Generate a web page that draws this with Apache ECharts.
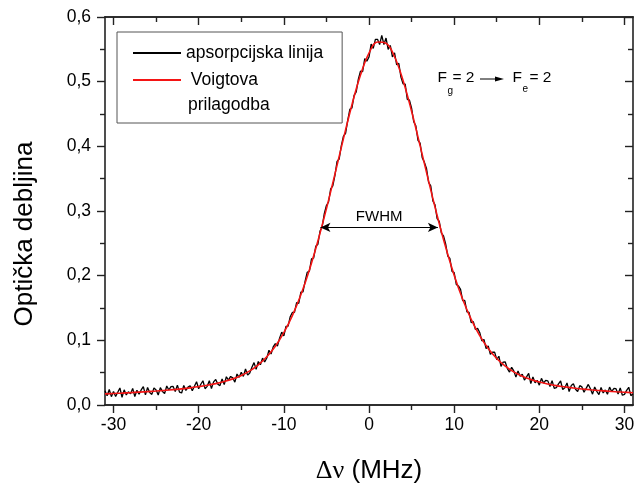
<!DOCTYPE html>
<html><head><meta charset="utf-8">
<script src="https://cdn.jsdelivr.net/npm/echarts@6/dist/echarts.min.js"></script>
<style>html,body{margin:0;padding:0;background:#fff}#c{width:635px;height:487px}</style>
</head><body><div id="c"></div>
<script>
const fitX = [-31,-30,-29,-28,-27,-26,-25,-24,-23,-22,-21,-20,-19,-18,-17,-16,-15,-14,-13,-12,-11,-10,-9,-8,-7,-6,-5,-4,-3,-2,-1,0,1,2,3,4,5,6,7,8,9,10,11,12,13,14,15,16,17,18,19,20,21,22,23,24,25,26,27,28,29,30,31];
const fitY = [0.0172,0.0178,0.0184,0.0191,0.0199,0.0207,0.0216,0.0226,0.0238,0.0250,0.0265,0.0284,0.0305,0.0331,0.0363,0.0404,0.0457,0.0528,0.0622,0.0746,0.0909,0.1118,0.1381,0.1704,0.2089,0.2536,0.3035,0.3571,0.4119,0.4644,0.5102,0.5441,0.5614,0.5595,0.5385,0.5018,0.4542,0.4010,0.3462,0.2932,0.2442,0.2007,0.1634,0.1323,0.1072,0.0873,0.0719,0.0601,0.0512,0.0445,0.0395,0.0355,0.0325,0.0300,0.0281,0.0263,0.0248,0.0235,0.0224,0.0214,0.0205,0.0197,0.0190];
const rawX = [-31,-30.75,-30.5,-30.25,-30,-29.75,-29.5,-29.25,-29,-28.75,-28.5,-28.25,-28,-27.75,-27.5,-27.25,-27,-26.75,-26.5,-26.25,-26,-25.75,-25.5,-25.25,-25,-24.75,-24.5,-24.25,-24,-23.75,-23.5,-23.25,-23,-22.75,-22.5,-22.25,-22,-21.75,-21.5,-21.25,-21,-20.75,-20.5,-20.25,-20,-19.75,-19.5,-19.25,-19,-18.75,-18.5,-18.25,-18,-17.75,-17.5,-17.25,-17,-16.75,-16.5,-16.25,-16,-15.75,-15.5,-15.25,-15,-14.75,-14.5,-14.25,-14,-13.75,-13.5,-13.25,-13,-12.75,-12.5,-12.25,-12,-11.75,-11.5,-11.25,-11,-10.75,-10.5,-10.25,-10,-9.75,-9.5,-9.25,-9,-8.75,-8.5,-8.25,-8,-7.75,-7.5,-7.25,-7,-6.75,-6.5,-6.25,-6,-5.75,-5.5,-5.25,-5,-4.75,-4.5,-4.25,-4,-3.75,-3.5,-3.25,-3,-2.75,-2.5,-2.25,-2,-1.75,-1.5,-1.25,-1,-0.75,-0.5,-0.25,
0,0.25,0.5,0.75,1,1.25,1.5,1.75,2,2.25,2.5,2.75,3,3.25,3.5,3.75,4,4.25,4.5,4.75,5,5.25,5.5,5.75,6,6.25,6.5,6.75,7,7.25,7.5,7.75,8,8.25,8.5,8.75,9,9.25,9.5,9.75,10,10.25,10.5,10.75,11,11.25,11.5,11.75,12,12.25,12.5,12.75,13,13.25,13.5,13.75,14,14.25,14.5,14.75,15,15.25,15.5,15.75,16,16.25,16.5,16.75,17,17.25,17.5,17.75,18,18.25,18.5,18.75,19,19.25,19.5,19.75,20,20.25,20.5,20.75,21,21.25,21.5,21.75,22,22.25,22.5,22.75,23,23.25,23.5,23.75,24,24.25,24.5,24.75,25,25.25,25.5,25.75,26,26.25,26.5,26.75,27,27.25,27.5,27.75,28,28.25,28.5,28.75,29,29.25,29.5,29.75,30,30.25,30.5,30.75,31];
const rawY = [
0.0220,0.0142,0.0239,0.0129, 0.0210,0.0132,0.0197,0.0263, 0.0120,0.0234,0.0156,0.0205,
0.0175,0.0257,0.0131,0.0229, 0.0167,0.0233,0.0283,0.0157, 0.0271,0.0193,0.0164,0.0262,
0.0232,0.0155,0.0269,0.0208, 0.0178,0.0293,0.0232,0.0283, 0.0286,0.0209,0.0308,0.0199,
0.0186,0.0302,0.0226,0.0277, 0.0297,0.0222,0.0291,0.0359, 0.0252,0.0321,0.0375,0.0252,
0.0289,0.0376,0.0254,0.0357, 0.0395,0.0323,0.0299,0.0403, 0.0315,0.0437,0.0384,0.0442,
0.0420,0.0353,0.0479,0.0428, 0.0505,0.0443,0.0557,0.0462, 0.0496,0.0584,0.0655,0.0551,
0.0672,0.0623,0.0724,0.0665, 0.0726,0.0847,0.0788,0.0898, 0.0949,0.0911,0.1034,0.1126,
0.1068,0.1214,0.1220,0.1365, 0.1431,0.1432,0.1583,0.1573, 0.1744,0.1750,0.1917,0.2053,
0.2069,0.2261,0.2273,0.2454, 0.2486,0.2691,0.2756,0.2960, 0.3085,0.3139,0.3343,0.3387,
0.3551,0.3768,0.3805,0.4012, 0.4159,0.4200,0.4402,0.4573, 0.4594,0.4789,0.4843,0.5038,
0.5162,0.5155,0.5355,0.5317,
0.5381,0.5580,0.5515,0.5655, 0.5654,0.5575,0.5716,0.5575, 0.5675,0.5500,0.5560,0.5383,
0.5445,0.5260,0.5285,0.5070, 0.4968,0.4963,0.4725,0.4713, 0.4592,0.4380,0.4318,0.4094,
0.4050,0.3823,0.3756,0.3659, 0.3442,0.3390,0.3157,0.3095, 0.2882,0.2840,0.2657,0.2615,
0.2492,0.2303,0.2265,0.2066, 0.2047,0.1864,0.1841,0.1787, 0.1614,0.1616,0.1439,0.1431,
0.1273,0.1290,0.1168,0.1185, 0.1122,0.0992,0.1013,0.0873, 0.0913,0.0785,0.0816,0.0818,
0.0703,0.0754,0.0596,0.0663, 0.0665,0.0563,0.0509,0.0582, 0.0528,0.0431,0.0527,0.0446,
0.0477,0.0385,0.0436,0.0488, 0.0331,0.0433,0.0343,0.0381, 0.0307,0.0412,0.0340,0.0381,
0.0373,0.0287,0.0377,0.0258, 0.0268,0.0327,0.0371,0.0238, 0.0265,0.0341,0.0208,0.0300,
0.0327,0.0243,0.0208,0.0300, 0.0280,0.0197,0.0258,0.0318, 0.0251,0.0168,0.0278,0.0211,
0.0160,0.0270,0.0187,0.0233, 0.0166,0.0276,0.0210,0.0255, 0.0253,0.0171,0.0265,0.0151,
0.0165,0.0227,0.0274,0.0144, 0.0174];
const xMajorTicks = [-30,-20,-10,0,10,20,30];
const xMinorTicks = [-25,-15,-5,5,15,25];
const yTickLabels = ['0,0','0,1','0,2','0,3','0,4','0,5','0,6'];
const fwhmLevel = 0.2746, fwhmLeft = -5.7, fwhmRight = 8.09;
const seriesNames = ['apsorpcijska linija', ' Voigtova'];

const FONT = '"Liberation Sans", Arial, sans-serif';
const AX = '#222';
const chart = echarts.init(document.getElementById('c'), null, {renderer:'canvas'});

function xAx(pos, ticks, len, inside, labels) {
  return {
    type:'value', position:pos, min:-31, max:31,
    axisLine:{show:true, onZero:false, lineStyle:{color:AX, width:1.6}},
    axisTick:{show:true, customValues:ticks, length:len, inside:inside, lineStyle:{color:AX, width:1.4}},
    axisLabel: labels ? {show:true, customValues:ticks, margin:11, color:'#000', fontSize:17.5, fontFamily:FONT} : {show:false},
    splitLine:{show:false}
  };
}
function yAx(pos, inside, labels) {
  return {
    type:'value', position:pos, min:0, max:0.6, interval:0.1,
    axisLine:{show:true, onZero:false, lineStyle:{color:AX, width:1.6}},
    axisTick:{show:true, length:8, inside:inside, lineStyle:{color:AX, width:1.4}},
    minorTick:{show:true, splitNumber:2, length:5, lineStyle:{color:AX, width:1.4}},
    axisLabel: labels ? {show:true, margin:14, color:'#000', fontSize:17.5, fontFamily:FONT,
      formatter:(v)=>yTickLabels[Math.round(v*10)]} : {show:false},
    splitLine:{show:false}, minorSplitLine:{show:false}
  };
}

const option = {
  animation:false,
  backgroundColor:'#fff',
  grid:{left:105, top:17, width:528, height:388, containLabel:false, outerBoundsMode:'none'},
  xAxis:[
    Object.assign(xAx('bottom', xMajorTicks, 8, false, true), {
      name:'{g|Δν} (MHz)', nameLocation:'middle', nameGap:53,
      nameTextStyle:{fontSize:26, fontFamily:FONT, color:'#000',
        rich:{g:{fontSize:26, fontFamily:'"Liberation Serif", serif', color:'#000'}}}
    }),
    xAx('bottom', xMinorTicks, 5, false, false),
    xAx('top', xMajorTicks, 8, true, false),
    xAx('top', xMinorTicks, 5, true, false)
  ],
  yAxis:[ yAx('left', false, true), yAx('right', true, false) ],
  legend:{
    orient:'vertical', left:117, top:32, icon:'rect', itemWidth:48, itemHeight:2, itemGap:9,
    padding:[12,19,34,16], borderColor:'#555', borderWidth:1, borderRadius:0,
    textStyle:{fontSize:17.5, fontFamily:FONT, color:'#000'},
    data:seriesNames
  },
  series:[
    { name:seriesNames[0], type:'line', data:rawX.map((x,i)=>[x, rawY[i]]), symbol:'none',
      lineStyle:{color:'#000', width:1.3}, itemStyle:{color:'#000'}, z:2 },
    { name:seriesNames[1], type:'line', data:fitX.map((x,i)=>[x, fitY[i]]), symbol:'none', smooth:0.4,
      lineStyle:{color:'#f41414', width:1.6}, itemStyle:{color:'#f41414'}, z:3,
      markLine:{ silent:true, symbol:['arrow','arrow'], symbolSize:[7,10], animation:false,
        lineStyle:{color:'#000', width:1, type:'solid'},
        label:{show:true, position:'insideMiddleTop', formatter:'FWHM', distance:3, color:'#000', fontSize:15, fontFamily:FONT},
        data:[[{coord:[fwhmLeft, fwhmLevel]},{coord:[fwhmRight, fwhmLevel]}]] } }
  ],
  graphic:[
    {type:'text', left:188, top:96, style:{text:'prilagodba', fontSize:17.5, fontFamily:FONT, fill:'#000'}},
    {type:'text', x:25, y:234, rotation:Math.PI/2, style:{text:'Optička debljina', fontSize:26, fontFamily:FONT, fill:'#000', align:'center', verticalAlign:'middle'}},
    {type:'text', x:437.5, y:78, style:{text:'F', fontSize:15.5, fontFamily:FONT, fill:'#000', verticalAlign:'middle'}},
    {type:'text', x:447.5, y:91, style:{text:'g', fontSize:10, fontFamily:FONT, fill:'#000', verticalAlign:'middle'}},
    {type:'text', x:452.5, y:78, style:{text:'= 2', fontSize:15.5, fontFamily:FONT, fill:'#000', verticalAlign:'middle'}},
    {type:'line', shape:{x1:480, y1:79, x2:497, y2:79}, style:{stroke:'#000', lineWidth:1}},
    {type:'polygon', shape:{points:[[495,76.5],[504,79],[495,81.5]]}, style:{fill:'#000'}},
    {type:'text', x:512.5, y:78, style:{text:'F', fontSize:15.5, fontFamily:FONT, fill:'#000', verticalAlign:'middle'}},
    {type:'text', x:522.5, y:89, style:{text:'e', fontSize:10, fontFamily:FONT, fill:'#000', verticalAlign:'middle'}},
    {type:'text', x:529.5, y:78, style:{text:'= 2', fontSize:15.5, fontFamily:FONT, fill:'#000', verticalAlign:'middle'}}
  ]
};
chart.setOption(option);
</script>
</body></html>
